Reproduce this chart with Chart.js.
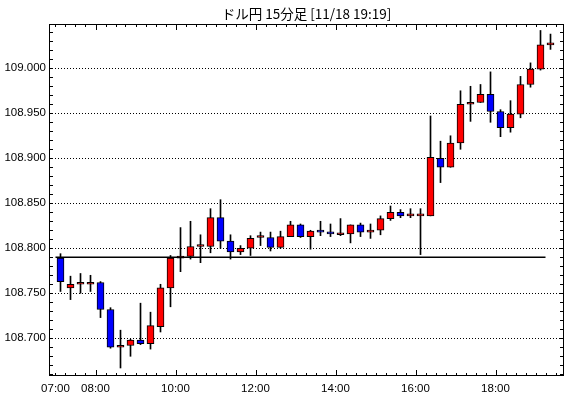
<!DOCTYPE html>
<html>
<head>
<meta charset="utf-8">
<script src="https://cdn.jsdelivr.net/npm/chart.js@4.4.0/dist/chart.umd.min.js"></script>
<style>
html, body { margin: 0; padding: 0; background: #fff; }
</style>
</head>
<body>
<canvas id="chart1" width="570" height="398"></canvas>
<script>
// 15-minute candles, USD/JPY
var times = ['07:00','07:15','07:30','07:45','08:00','08:15','08:30','08:45','09:00','09:15',
	'09:30','09:45','10:00','10:15','10:30','10:45','11:00','11:15','11:30','11:45',
	'12:00','12:15','12:30','12:45','13:00','13:15','13:30','13:45','14:00','14:15',
	'14:30','14:45','15:00','15:15','15:30','15:45','16:00','16:15','16:30','16:45',
	'17:00','17:15','17:30','17:45','18:00','18:15','18:30','18:45','19:00','19:15'];
var opens = [108.789,108.756,108.760,108.760,108.762,108.732,108.690,108.692,108.698,108.694,
	108.713,108.756,108.789,108.791,108.802,108.802,108.834,108.808,108.796,108.800,
	108.812,108.812,108.801,108.813,108.826,108.813,108.819,108.818,108.815,108.816,
	108.826,108.818,108.820,108.833,108.840,108.836,108.836,108.836,108.900,108.890,
	108.917,108.960,108.962,108.971,108.952,108.934,108.949,108.982,108.999,109.026];
var highs = [108.794,108.769,108.772,108.770,108.763,108.734,108.709,108.699,108.739,108.729,
	108.760,108.792,108.823,108.830,108.815,108.844,108.854,108.815,108.803,108.814,
	108.818,108.818,108.819,108.830,108.827,108.820,108.830,108.827,108.833,108.826,
	108.828,108.827,108.836,108.847,108.843,108.844,108.844,108.947,108.919,108.925,
	108.975,108.980,108.982,108.996,108.954,108.964,108.991,109.006,109.042,109.038];
var lows = [108.752,108.743,108.750,108.752,108.723,108.689,108.667,108.680,108.693,108.688,
	108.707,108.735,108.774,108.788,108.784,108.795,108.800,108.788,108.793,108.792,
	108.803,108.797,108.800,108.813,108.812,108.799,108.814,108.813,108.814,108.806,
	108.813,108.811,108.815,108.831,108.834,108.834,108.793,108.836,108.873,108.890,
	108.910,108.941,108.962,108.940,108.924,108.929,108.945,108.979,108.998,109.021];
var closes = [108.763,108.760,108.760,108.762,108.732,108.690,108.692,108.698,108.694,108.714,
	108.756,108.789,108.791,108.802,108.802,108.834,108.808,108.796,108.800,108.811,
	108.812,108.801,108.813,108.826,108.813,108.819,108.818,108.816,108.815,108.826,
	108.818,108.820,108.833,108.840,108.836,108.836,108.836,108.901,108.890,108.917,
	108.960,108.962,108.971,108.952,108.934,108.949,108.982,108.999,109.026,109.028];

var prevClose = 108.790;
var prevCloseFrom = '07:00';
var prevCloseTo = '19:15';

var yTickValues = [108.70, 108.75, 108.80, 108.85, 108.90, 108.95, 109.00];
var xTickLabels = ['07:00', '08:00', '10:00', '12:00', '14:00', '16:00', '18:00'];

var titleText = 'ドル円 15分足 [11/18 19:19]';

var upColor = '#ff0000';
var downColor = '#0000ff';
var textFont = "'Liberation Sans', Arial, sans-serif";

function toHours(t) {
	var p = t.split(':');
	return parseInt(p[0], 10) + parseInt(p[1], 10) / 60;
}

// candles sit in the middle of their 15-minute slot
var bodies = [], wicks = [], bodyColors = [];
for (var i = 0; i < times.length; i++) {
	var x = toHours(times[i]) + 0.125;
	bodies.push({ x: x, y: [opens[i], closes[i]] });
	wicks.push({ x: x, y: [lows[i], highs[i]] });
	bodyColors.push(closes[i] >= opens[i] ? upColor : downColor);
}
var xTickValues = xTickLabels.map(toHours);

var framePlugin = {
	id: 'frame',
	beforeDatasetsDraw: function(chart) {
		var ctx = chart.ctx, a = chart.chartArea, ys = chart.scales.y;
		ctx.save();
		ctx.strokeStyle = '#000';
		ctx.lineWidth = 1;
		ctx.setLineDash([1, 2]);
		yTickValues.forEach(function(v) {
			var y = Math.round(ys.getPixelForValue(v)) + 0.5;
			ctx.beginPath();
			ctx.moveTo(a.left, y);
			ctx.lineTo(a.right, y);
			ctx.stroke();
		});
		ctx.restore();
	},
	afterDatasetsDraw: function(chart) {
		var ctx = chart.ctx, a = chart.chartArea, xs = chart.scales.x, ys = chart.scales.y;
		ctx.save();
		ctx.strokeStyle = '#000';
		ctx.lineWidth = 1;
		ctx.strokeRect(a.left + 0.5, a.top + 0.5, a.right - a.left - 1, a.bottom - a.top - 1);
		ctx.beginPath();
		for (var k = 0; k <= 38; k++) {
			var y = Math.round(ys.getPixelForValue(108.66 + k * 0.01)) + 0.5;
			if (y < a.top || y > a.bottom) continue;
			ctx.moveTo(a.left, y); ctx.lineTo(a.left + 4, y);
			ctx.moveTo(a.right - 4, y); ctx.lineTo(a.right, y);
		}
		for (var m = 0; m <= 50; m++) {
			var h = 7 + m * 0.25;
			var x = Math.round(xs.getPixelForValue(h)) + 0.5;
			if (x < a.left || x > a.right) continue;
			var len = xTickValues.indexOf(h) > 0 ? 6 : 3;
			ctx.moveTo(x, a.bottom); ctx.lineTo(x, a.bottom - len);
			ctx.moveTo(x, a.top); ctx.lineTo(x, a.top + len);
		}
		ctx.stroke();
		ctx.restore();
	}
};

var ctx = document.getElementById('chart1').getContext('2d');
var chart1 = new Chart(ctx, {
	type: 'bar',
	data: {
		datasets: [{
			type: 'line',
			data: [{ x: toHours(prevCloseFrom), y: prevClose }, { x: toHours(prevCloseTo), y: prevClose }],
			borderColor: '#000',
			borderWidth: 1.5,
			pointRadius: 0,
			fill: false,
			order: 0
		}, {
			data: bodies,
			backgroundColor: bodyColors,
			borderColor: '#000',
			borderWidth: 1,
			borderSkipped: false,
			barThickness: 7,
			minBarLength: 2,
			grouped: false,
			order: 1
		}, {
			data: wicks,
			backgroundColor: '#000',
			borderWidth: 0,
			barThickness: 1,
			grouped: false,
			order: 2
		}]
	},
	options: {
		responsive: false,
		animation: false,
		layout: { padding: { left: 0, right: 6, top: 0, bottom: 0 } },
		plugins: {
			legend: { display: false },
			tooltip: { enabled: false },
			title: {
				display: true,
				text: titleText,
				fullSize: false,
				color: '#000',
				font: { family: "'Noto Sans CJK JP', sans-serif", size: 13.5, weight: 'normal' },
				padding: { top: 6, bottom: 1.8 }
			}
		},
		scales: {
			x: {
				type: 'linear',
				offset: false,
				min: 6.8375,
				max: 19.7125,
				grid: { display: false, drawTicks: false, offset: false },
				border: { display: false },
				afterBuildTicks: function(scale) {
					scale.ticks = xTickValues.map(function(v) { return { value: v }; });
				},
				afterFit: function(scale) { scale.height = 22; },
				ticks: {
					autoSkip: false,
					maxRotation: 0,
					padding: 6,
					color: '#000',
					font: { family: textFont, size: 11.5 },
					callback: function(v) {
						var idx = xTickValues.indexOf(v);
						return idx >= 0 ? xTickLabels[idx] : '';
					}
				}
			},
			y: {
				type: 'linear',
				min: 108.6581,
				max: 109.0492,
				grid: { display: false, drawTicks: false },
				border: { display: false },
				afterBuildTicks: function(scale) {
					scale.ticks = yTickValues.map(function(v) { return { value: v }; });
				},
				afterFit: function(scale) { scale.width = 49; },
				ticks: {
					padding: 3,
					color: '#000',
					font: { family: textFont, size: 11.5 },
					callback: function(v) { return v.toFixed(3); }
				}
			}
		}
	},
	plugins: [framePlugin]
});
</script>
</body>
</html>
